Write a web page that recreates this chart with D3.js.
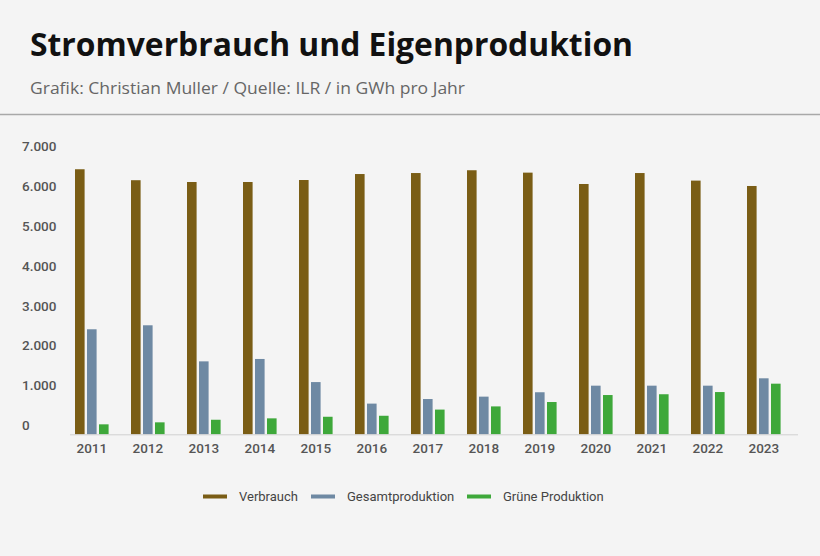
<!DOCTYPE html>
<html>
<head>
<meta charset="utf-8">
<script src="https://cdn.jsdelivr.net/npm/d3@7"></script>
<style>
  html, body { margin: 0; padding: 0; background: #f4f4f4; }
  svg { display: block; }
</style>
</head>
<body>
<div class="chart"></div>
<script>
"use strict";
// Werte in GWh pro Jahr
const years = ["2011","2012","2013","2014","2015","2016","2017","2018","2019","2020","2021","2022","2023"];
const verbrauch = [6650, 6375, 6330, 6330, 6380, 6530, 6555, 6625, 6565, 6280, 6555, 6365, 6230];
const gesamtproduktion = [2635, 2735, 1830, 1890, 1310, 770, 885, 945, 1055, 1220, 1220, 1220, 1405];
const grueneProduktion = [250, 300, 365, 400, 440, 465, 620, 700, 810, 985, 1005, 1060, 1270];
const seriesNames = ["Verbrauch", "Gesamtproduktion", "Grüne Produktion"];
const seriesColors = ["#7a5d15", "#6e89a3", "#3ea83a"];
const yTicks = [0, 1000, 2000, 3000, 4000, 5000, 6000, 7000];

const width = 820, height = 556;
const seriesValues = [verbrauch, gesamtproduktion, grueneProduktion];
const rows = years.map((y, i) => ({year: y, values: seriesValues.map(s => s[i])}));

const de = d3.formatLocale({decimal: ",", thousands: ".", grouping: [3], currency: ["", " €"]});
const fmt = de.format(",");

const svg = d3.select(".chart").append("svg")
    .attr("width", width)
    .attr("height", height);

svg.append("rect")
    .attr("width", width).attr("height", height)
    .attr("fill", "#f4f4f4");

// Kopf
svg.append("text")
    .attr("x", 30).attr("y", 56)
    .attr("font-family", "Open Sans")
    .attr("font-weight", 700)
    .attr("font-size", 32)
    .attr("textLength", 603)
    .attr("lengthAdjust", "spacingAndGlyphs")
    .attr("fill", "#111")
    .text("Stromverbrauch und Eigenproduktion");

svg.append("text")
    .attr("x", 30).attr("y", 94)
    .attr("font-family", "Open Sans")
    .attr("font-size", 17)
    .attr("textLength", 435)
    .attr("lengthAdjust", "spacingAndGlyphs")
    .attr("fill", "#666")
    .text("Grafik: Christian Muller / Quelle: ILR / in GWh pro Jahr");

svg.append("line")
    .attr("x1", 0).attr("x2", width)
    .attr("y1", 114.5).attr("y2", 114.5)
    .attr("stroke", "#a8a8a8")
    .attr("stroke-width", 1.5);

// Skalen
let x0 = d3.scaleBand()
    .domain(years)
    .range([63.8, 791.8])
    .paddingInner(0.4)
    .paddingOuter(0.2);

let x1 = d3.scaleBand()
    .domain(seriesNames)
    .range([0, x0.bandwidth()])
    .paddingInner(0.2);

let y = d3.scaleLinear()
    .domain([0, 7000])
    .range([434.3, 155.3]);

let color = d3.scaleOrdinal().domain(seriesNames).range(seriesColors);

// y-Achse (nur Beschriftung)
let yAxis = d3.axisLeft(y).tickValues(yTicks).tickFormat(fmt).tickSize(0).tickPadding(0);
let yg = svg.append("g")
    .attr("transform", "translate(22,0)")
    .call(yAxis);
yg.select(".domain").remove();
yg.selectAll("text")
    .attr("text-anchor", "start")
    .attr("dy", "-0.35em")
    .attr("font-family", "Roboto")
    .attr("font-weight", 500)
    .attr("font-size", 13.5)
    .attr("fill", "#555");

// Balken
let groups = svg.append("g").selectAll("g")
    .data(rows)
    .join("g")
    .attr("transform", d => "translate(" + x0(d.year) + ",0)");

groups.selectAll("rect")
    .data(d => seriesNames.map((name, i) => ({name: name, value: d.values[i]})))
    .join("rect")
    .attr("x", d => x1(d.name))
    .attr("width", x1.bandwidth())
    .attr("y", d => y(d.value))
    .attr("height", d => y(0) - y(d.value))
    .attr("fill", d => color(d.name));

// x-Achse
let xAxis = d3.axisBottom(x0).tickSize(0).tickPadding(9);
let xg = svg.append("g")
    .attr("transform", "translate(0," + y(0) + ")")
    .call(xAxis);
xg.select(".domain").remove();
xg.selectAll("text")
    .attr("font-family", "Roboto")
    .attr("font-weight", 500)
    .attr("font-size", 13.5)
    .attr("fill", "#555");

svg.append("line")
    .attr("x1", 70).attr("x2", 798)
    .attr("y1", y(0) + 0.5).attr("y2", y(0) + 0.5)
    .attr("stroke", "#d0d0d0")
    .attr("stroke-width", 1);

// Legende
const legendX = [203, 311, 467];
let legend = svg.append("g").selectAll("g")
    .data(seriesNames)
    .join("g")
    .attr("transform", (d, i) => "translate(" + legendX[i] + ",496.5)");

legend.append("line")
    .attr("x1", 0).attr("x2", 24)
    .attr("stroke", d => color(d))
    .attr("stroke-width", 4);

legend.append("text")
    .attr("x", 36).attr("dy", "0.35em")
    .attr("font-family", "Roboto")
    .attr("font-size", 13)
    .attr("fill", "#444")
    .text(d => d);
</script>
</body>
</html>
